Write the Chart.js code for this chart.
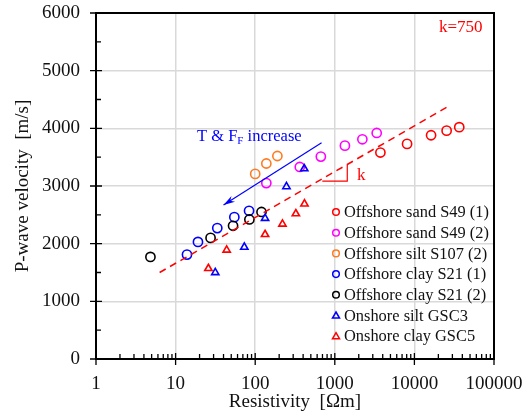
<!DOCTYPE html>
<html>
<head>
<meta charset="utf-8">
<script src="https://cdn.jsdelivr.net/npm/chart.js@4.4.1/dist/chart.umd.min.js"></script>
<style>
  html, body { margin: 0; padding: 0; background: #fff; }
  #wrap { width: 525px; height: 416px; position: relative; }
</style>
</head>
<body>
<div id="wrap"><canvas id="vpChart"></canvas></div>
<script>
// values
var sandS49a_x = [3740, 8090, 16200, 25400, 36600];
var sandS49a_y = [3580, 3730, 3880, 3960, 4020];
var sandS49b_x = [138, 363, 668, 1340, 2220, 3360];
var sandS49b_y = [3050, 3330, 3510, 3700, 3810, 3920];
var siltS107_x = [100, 138, 190];
var siltS107_y = [3210, 3390, 3520];
var clayS21a_x = [13.9, 19.1, 33.4, 54.7, 83.7];
var clayS21a_y = [1810, 2030, 2270, 2460, 2570];
var clayS21b_x = [4.83, 27.5, 52.7, 84.5, 120];
var clayS21b_y = [1770, 2100, 2310, 2420, 2550];
var gsc3_x = [31.5, 73, 133, 247, 413];
var gsc3_y = [1500, 1940, 2440, 2990, 3300];
var gsc5_x = [25.8, 43.8, 133, 220, 324, 416];
var gsc5_y = [1570, 1890, 2160, 2340, 2520, 2690];

var trend_x = [6.3, 27300];
var trend_y = [1500, 4390];
var arrow_x = [682, 40];
var arrow_y = [3750, 2670];
var slope_x = [696, 1435, 1435];
var slope_y = [3085, 3085, 3362];

var xTicks = [1, 10, 100, 1000, 10000, 100000];
var yTicks = [0, 1000, 2000, 3000, 4000, 5000, 6000];

var seriesNames = ['Offshore sand S49 (1)', 'Offshore sand S49 (2)', 'Offshore silt S107 (2)',
    'Offshore clay S21 (1)', 'Offshore clay S21 (2)', 'Onshore silt GSC3', 'Onshore clay GSC5'];
var seriesColors = ['#ff0000', '#ff00ff', '#ff7b22', '#0000ff', '#000000', '#0000ff', '#ff0000'];
var seriesStyles = ['circle', 'circle', 'circle', 'circle', 'circle', 'triangle', 'triangle'];

function pts(xs, ys) {
    var out = [];
    for (var i in xs) out.push({x: xs[i], y: ys[i]});
    return out;
}

var SERIF = '"Liberation Serif", "Times New Roman", serif';

var seriesData = [
    pts(sandS49a_x, sandS49a_y), pts(sandS49b_x, sandS49b_y), pts(siltS107_x, siltS107_y),
    pts(clayS21a_x, clayS21a_y), pts(clayS21b_x, clayS21b_y), pts(gsc3_x, gsc3_y), pts(gsc5_x, gsc5_y)
];

var datasets = [];
datasets.push({ type: 'line', data: pts(trend_x, trend_y), borderColor: '#ff0000', borderWidth: 1.5,
    borderDash: [7, 5], pointRadius: 0, fill: false });
datasets.push({ type: 'line', data: pts(slope_x, slope_y), borderColor: '#ff0000', borderWidth: 1.2,
    pointRadius: 0, fill: false });
datasets.push({ type: 'line', data: pts(arrow_x, arrow_y), borderColor: '#0000ff', borderWidth: 1.2,
    pointRadius: 0, fill: false });
for (var s = seriesData.length - 1; s >= 0; s--) {
    datasets.push({
        type: 'scatter', label: seriesNames[s], data: seriesData[s],
        pointStyle: seriesStyles[s],
        pointRadius: seriesStyles[s] == 'circle' ? 4.6 : 4.2,
        borderColor: seriesColors[s], backgroundColor: 'rgba(0,0,0,0)',
        pointBorderWidth: 1.6, showLine: false
    });
}

var decorPlugin = {
    id: 'decor',
    afterDraw: function (chart) {
        var ctx = chart.ctx, a = chart.chartArea;
        var xs = chart.scales.x, ys = chart.scales.y;
        ctx.save();
        // frame
        ctx.strokeStyle = '#000';
        ctx.lineWidth = 2;
        ctx.strokeRect(a.left, a.top, a.right - a.left, a.bottom - a.top);
        // y ticks
        ctx.lineWidth = 1.3;
        ctx.beginPath();
        for (var v = 0; v <= 6000; v += 500) {
            var py = ys.getPixelForValue(v);
            if (v % 1000 == 0) { ctx.moveTo(a.left - 6, py); ctx.lineTo(a.left + 6, py); }
            else { ctx.moveTo(a.left, py); ctx.lineTo(a.left + 5, py); }
        }
        // x ticks
        for (var d = 1; d <= 100000; d *= 10) {
            var px = xs.getPixelForValue(d);
            ctx.moveTo(px, a.bottom + 6); ctx.lineTo(px, a.bottom - 6);
            if (d < 100000) {
                for (var m = 2; m <= 9; m++) {
                    var qx = xs.getPixelForValue(d * m);
                    ctx.moveTo(qx, a.bottom); ctx.lineTo(qx, a.bottom - 5);
                }
            }
        }
        ctx.stroke();

        // arrow head
        var x1 = xs.getPixelForValue(arrow_x[0]), y1 = ys.getPixelForValue(arrow_y[0]);
        var x2 = xs.getPixelForValue(arrow_x[1]), y2 = ys.getPixelForValue(arrow_y[1]);
        var ang = Math.atan2(y2 - y1, x2 - x1);
        ctx.fillStyle = '#0000ff';
        ctx.beginPath();
        ctx.moveTo(x2, y2);
        ctx.lineTo(x2 - 12 * Math.cos(ang - 0.28), y2 - 12 * Math.sin(ang - 0.28));
        ctx.lineTo(x2 - 8 * Math.cos(ang), y2 - 8 * Math.sin(ang));
        ctx.lineTo(x2 - 12 * Math.cos(ang + 0.28), y2 - 12 * Math.sin(ang + 0.28));
        ctx.closePath();
        ctx.fill();

        // annotations
        ctx.textBaseline = 'middle';
        ctx.textAlign = 'left';
        ctx.fillStyle = '#ff0000';
        ctx.font = '17px ' + SERIF;
        ctx.fillText('k=750', 439, 28);
        ctx.fillText('k', 357, 176);

        ctx.fillStyle = '#0000ff';
        ctx.font = '16.5px ' + SERIF;
        var tx = 197, ty = 137;
        ctx.fillText('T & F', tx, ty);
        var w = ctx.measureText('T & F').width;
        ctx.font = '11px ' + SERIF;
        ctx.fillText('F', tx + w, ty + 4);
        var w2 = ctx.measureText('F').width;
        ctx.font = '16.5px ' + SERIF;
        ctx.fillText(' increase', tx + w + w2, ty);

        // legend
        ctx.font = '16.4px ' + SERIF;
        for (var i = 0; i < seriesNames.length; i++) {
            var ly = 212 + i * 20.7;
            ctx.strokeStyle = seriesColors[i];
            ctx.lineWidth = 1.5;
            ctx.beginPath();
            if (seriesStyles[i] == 'circle') {
                ctx.arc(336, ly, 3.3, 0, Math.PI * 2);
            } else {
                ctx.moveTo(336, ly - 3.5); ctx.lineTo(339.5, ly + 2.5); ctx.lineTo(332.5, ly + 2.5); ctx.closePath();
            }
            ctx.stroke();
            ctx.fillStyle = '#111';
            ctx.fillText(seriesNames[i], 344, ly + 1);
        }
        ctx.restore();
    }
};

var chart = new Chart(document.getElementById('vpChart'), {
    data: { datasets: datasets },
    options: {
        responsive: true,
        maintainAspectRatio: false,
        animation: false,
        layout: { padding: { top: 13, right: 31, left: 0, bottom: 0 } },
        plugins: { legend: { display: false }, tooltip: { enabled: false } },
        scales: {
            x: {
                type: 'logarithmic', min: 1, max: 100000, position: 'bottom',
                afterFit: function (sc) { sc.height = 57; sc.paddingLeft = 0; sc.paddingRight = 0; },
                afterBuildTicks: function (sc) { sc.ticks = xTicks.map(function (v) { return {value: v}; }); },
                grid: { color: '#d9d9d9', lineWidth: 1.5, drawTicks: false },
                border: { display: false },
                ticks: { color: '#111', padding: 14, maxRotation: 0, autoSkip: false,
                    font: { family: SERIF, size: 19 },
                    callback: function (v) { return String(v); } },
                title: { display: true, text: 'Resistivity  [\u03a9m]', color: '#111',
                    font: { family: SERIF, size: 19 }, padding: { top: 0, bottom: 3 } }
            },
            y: {
                min: 0, max: 6000,
                afterFit: function (sc) { sc.width = 96; sc.paddingTop = 0; sc.paddingBottom = 0; },
                afterBuildTicks: function (sc) { sc.ticks = yTicks.map(function (v) { return {value: v}; }); },
                grid: { color: '#d9d9d9', lineWidth: 1.5, drawTicks: false },
                border: { display: false },
                ticks: { color: '#111', padding: 16, font: { family: SERIF, size: 19 },
                    callback: function (v) { return String(v); } },
                title: { display: true, text: 'P-wave velocity  [m/s]', color: '#111',
                    font: { family: SERIF, size: 19 }, padding: { top: 12, bottom: 4 } }
            }
        }
    },
    plugins: [decorPlugin]
});
</script>
</body>
</html>
